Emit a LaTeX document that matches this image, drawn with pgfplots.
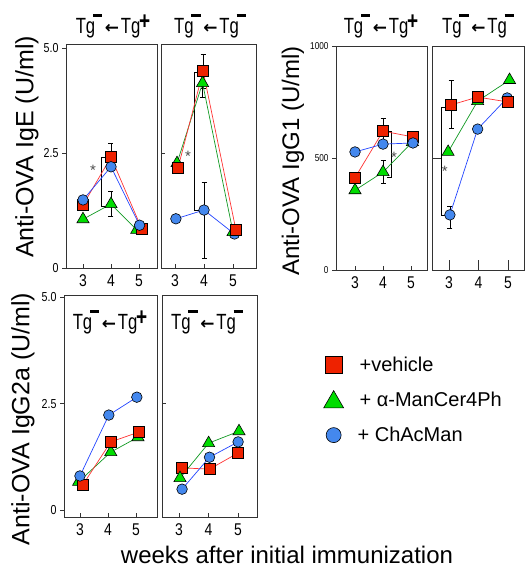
\documentclass[border=0pt]{standalone}
\usepackage{pgfplots}
\pgfplotsset{compat=1.18}
\usepackage{fontspec}
\setmainfont{Liberation Sans}
\newfontfamily\narrowfont[FakeStretch=0.82]{Liberation Sans}
\newfontfamily\titlenarrow[FakeStretch=0.76]{Liberation Sans}
\newfontfamily\dejavu{DejaVu Sans}
\definecolor{mred}{HTML}{EE2200}
\definecolor{mgreen}{HTML}{00DD00}
\definecolor{mblue}{HTML}{4488EE}
\definecolor{lred}{HTML}{FF3333}
\definecolor{lgreen}{HTML}{119922}
\definecolor{lblue}{HTML}{2244FF}
\newcommand{\tgminus}{Tg\kern-0.1em\raisebox{0.74em}{\rule{0.42em}{0.15em}}}
\newcommand{\arr}{\kern0.12em{\dejavu\bfseries\fontsize{17}{17}\selectfont ←}\kern0.08em}
\newcommand{\tgplus}{Tg\kern-0.06em\raisebox{0.17em}{\fontsize{25}{25}\selectfont\bfseries +}}
\newcommand{\titlefont}{\titlenarrow\fontsize{22}{24}\selectfont}
\pgfplotsset{
  panel/.style={scale only axis, anchor=south west,
    axis line style={draw=black!80, line width=0.9pt},
    xtick={3,4,5}, xtick align=inside, ytick align=outside,
    xtick pos=bottom, ytick pos=left,
    major tick length=4pt, tick style={black!80, line width=0.7pt},
    xticklabel style={font=\narrowfont\fontsize{17}{17}\selectfont, yshift=-3pt},
    yticklabel style={font=\narrowfont\fontsize{13}{13}\selectfont},
    /pgf/number format/assume math mode=true,
    /pgf/number format/1000 sep={},
    clip=false},
  rightpanel/.style={yticklabels={}, ytick align=inside},
  sred/.style={lred, line width=0.7pt, mark=square*, mark size=5.5pt, mark options={fill=mred, draw=black, line width=0.6pt, solid}},
  sgreen/.style={lgreen, line width=0.7pt, mark=triangle*, mark size=7pt, mark options={fill=mgreen, draw=black, line width=0.6pt, solid}},
  sblue/.style={lblue, line width=0.7pt, mark=*, mark size=5.3pt, mark options={fill=mblue, draw=black, line width=0.6pt, solid}},
  ebar/.style={black, only marks, mark=none, forget plot, error bars/.cd, y dir=both, y explicit,
    error bar style={black, line width=0.7pt}, error mark options={rotate=90, mark size=2.5pt, black, line width=0.7pt}},
  brk/.style={black, line width=0.7pt, mark=none, forget plot},
}
\begin{document}
\begin{tikzpicture}[x=1pt,y=1pt]
\useasboundingbox (0,0) rectangle (525,572);
% ---------- IgE left
\begin{axis}[panel, at={(66pt,304pt)}, width=91pt, height=224pt,
  xmin=2.393, xmax=5.643, ymin=0, ymax=4.87,
  ytick={0,2.5,4.78}, yticklabels={0,2.5,5.0}]
\addplot[ebar] coordinates {(4,2.41) +- (0,0.29) (4,1.39) +- (0,0.27)};
\addplot[brk] coordinates {(3.79,2.41) (3.64,2.41) (3.64,1.35) (3.79,1.35)};
\node[text=black!70, font=\fontsize{15}{15}\selectfont] at (axis cs:3.36,2.12) {*};
\addplot[sgreen] coordinates {(3,1.06) (4,1.39) (4.92,0.83)};
\addplot[sred] coordinates {(3,1.37) (4,2.41) (5.1,0.85)};
\addplot[sblue] coordinates {(3,1.48) (4,2.2) (5.02,0.93)};
\end{axis}
% ---------- IgE right
\begin{axis}[panel, rightpanel, at={(161pt,304pt)}, width=95pt, height=224pt,
  xmin=2.517, xmax=5.793, ymin=0, ymax=4.87, ytick={2.5}]
\addplot[ebar] coordinates {(3.97,4.28) +- (0,0.37) (3.95,4.02) +- (0,0.32) (4,1.26) += (0,0.6) -= (0,1.04)};
\addplot[brk] coordinates {(3.86,4.26) (3.66,4.26) (3.66,1.26) (3.86,1.26)};
\node[text=black!70, font=\fontsize{15}{15}\selectfont] at (axis cs:3.45,2.42) {*};
\addplot[sblue] coordinates {(3.03,1.07) (4,1.26) (5.05,0.74)};
\addplot[sgreen] coordinates {(3.07,2.28) (3.95,4.02) (5.0,0.78)};
\addplot[sred] coordinates {(3.1,2.17) (3.97,4.28) (5.1,0.83)};
\end{axis}
% ---------- IgG1 left
\begin{axis}[panel, at={(336pt,302pt)}, width=91pt, height=224pt,
  xmin=2.321, xmax=5.571, ymin=0, ymax=1000,
  ytick={0,500,1000}, yticklabel style={font=\narrowfont\fontsize{10}{10}\selectfont}]
\addplot[ebar] coordinates {(4,620) +- (0,58) (4,437) +- (0,52)};
\addplot[brk] coordinates {(4.14,620) (4.29,620) (4.29,415) (4.14,415)};
\node[text=black!70, font=\fontsize{15}{15}\selectfont] at (axis cs:4.39,505) {*};
\addplot[sgreen] coordinates {(3,356) (4,437) (5.05,571)};
\addplot[sred] coordinates {(3,412) (4,620) (5.07,594)};
\addplot[sblue] coordinates {(3,527) (4,562) (5.07,567)};
\end{axis}
% ---------- IgG1 right
\begin{axis}[panel, rightpanel, at={(432pt,302pt)}, width=92pt, height=224pt,
  xmin=2.424, xmax=5.54, ymin=0, ymax=1000, ytick={500}, major tick length=10pt]
\addplot[ebar] coordinates {(3.07,737) += (0,111) -= (0,103) (3.03,246) += (0,40) -= (0,59)};
\addplot[brk] coordinates {(2.95,728) (2.73,728) (2.73,246) (2.95,246)};
\node[text=black!70, font=\fontsize{15}{15}\selectfont] at (axis cs:2.86,440) {*};
\addplot[sblue] coordinates {(3.03,246) (3.97,629) (4.97,768)};
\addplot[sgreen] coordinates {(2.97,527) (3.97,754) (5.05,848)};
\addplot[sred] coordinates {(3.07,737) (3.97,772) (5,750)};
\end{axis}
% ---------- IgG2a left
\begin{axis}[panel, at={(64pt,55pt)}, width=93pt, height=222pt,
  xmin=2.43, xmax=5.75, ymin=-0.164, ymax=5.05,
  ytick={0,2.5,5}, yticklabels={0,2.5,5.0}]
\addplot[sgreen] coordinates {(2.95,0.66) (4.1,1.36) (5.07,1.71)};
\addplot[sred] coordinates {(3.1,0.59) (4.1,1.6) (5.1,1.83)};
\addplot[sblue] coordinates {(3,0.80) (4.03,2.23) (5.03,2.65)};
\end{axis}
% ---------- IgG2a right
\begin{axis}[panel, rightpanel, at={(162pt,55pt)}, width=95pt, height=222pt,
  xmin=2.42, xmax=5.64, ymin=-0.164, ymax=5.05, ytick={2.5},
  legend style={at={(axis description cs:1.70,0.73)}, anchor=north west, draw=none, fill=none,
    font=\fontsize{20}{22}\selectfont, row sep=15pt, inner sep=0pt},
  legend cell align=left]
\addlegendimage{legend image code/.code={\draw[only marks, mark=square*, mark size=8.5pt, mark options={fill=mred, draw=black, line width=0.6pt}] plot coordinates {(8pt,0pt)};}}
\addlegendentry{\kern14pt+vehicle}
\addlegendimage{legend image code/.code={\draw[only marks, mark=triangle*, mark size=11.5pt, mark options={fill=mgreen, draw=black, line width=0.6pt}] plot coordinates {(8pt,-2pt)};}}
\addlegendentry{\kern14pt+ α-ManCer4Ph}
\addlegendimage{legend image code/.code={\draw[only marks, mark=*, mark size=7.5pt, mark options={fill=mblue, draw=black, line width=0.6pt}] plot coordinates {(8pt,0pt)};}}
\addlegendentry{\kern12pt+ ChAcMan}
\addplot[sred, forget plot] coordinates {(3.1,0.99) (4.03,0.96) (5,1.34)};
\addplot[sblue, forget plot] coordinates {(3.1,0.49) (4.03,1.24) (5,1.6)};
\addplot[sgreen, forget plot] coordinates {(3.03,0.75) (4,1.57) (5.03,1.85)};
\end{axis}
% ---------- titles and labels
\node[font=\titlefont] at (113,546) {\tgminus\arr\tgplus};
\node[font=\titlefont] at (210,546) {\tgminus\arr\tgminus};
\node[font=\titlefont] at (381,546) {\tgminus\arr\tgplus};
\node[font=\titlefont] at (478,546) {\tgminus\arr\tgminus};
\node[font=\titlefont] at (110,250) {\tgminus\arr\tgplus};
\node[font=\titlefont] at (207,250) {\tgminus\arr\tgminus};
\node[rotate=90, font=\fontsize{25}{25}\selectfont] at (27,425) {Anti-OVA IgE (U/ml)};
\node[rotate=90, font=\fontsize{24}{24}\selectfont] at (293,411) {Anti-OVA IgG1 (U/ml)};
\node[rotate=90, font=\fontsize{25}{25}\selectfont] at (23,153) {Anti-OVA IgG2a (U/ml)};
\node[font=\fontsize{24}{24}\selectfont] at (287,17) {weeks after initial immunization};
\end{tikzpicture}
\end{document}
